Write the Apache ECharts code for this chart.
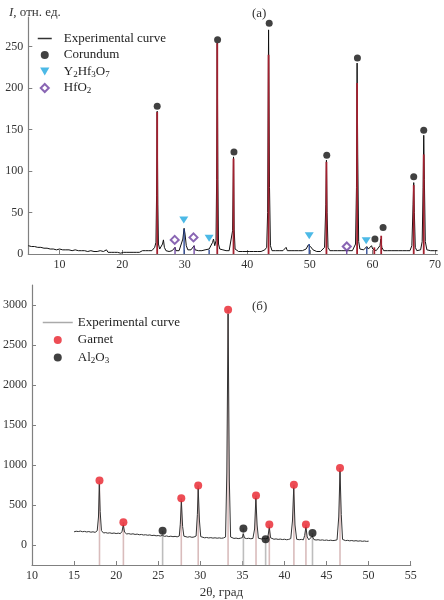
<!DOCTYPE html>
<html><head><meta charset="utf-8">
<script src="https://cdn.jsdelivr.net/npm/echarts@6/dist/echarts.min.js"></script>
<style>html,body{margin:0;padding:0;background:#fff}#c{width:444px;height:600px}</style>
</head><body><div id="c"></div>
<script>
const FONT = "'Liberation Serif','Times New Roman',serif";

// ---------- panel (a) ----------
const xTicksA = [10, 20, 30, 40, 50, 60, 70];
const yTicksA = [0, 50, 100, 150, 200, 250];
const curveA = [
[5,10],[5.25,8],[5.5,9],[5.75,7],[6,9],[6.25,7],[6.5,8],[6.75,6],[7,8],[7.25,6],[7.5,7],[7.75,5],[8,7],[8.25,5],[8.5,6],[8.75,4],[9,6],[9.25,4],[9.5,5],[9.75,4],
[10,6],[10.25,4],[10.5,5],[10.75,3],[11,5],[11.25,4],[11.5,5],[11.75,3],[12,4],[12.25,3],[12.5,5],[12.75,3],[13,4],[13.25,2],[13.5,4],[13.75,3],[14,4],[14.25,2],[14.5,3],[14.75,2],
[15,4],[15.25,2],[15.5,3],[15.75,2],[16,3],[16.25,2],[16.5,4],[16.75,2],[17,3],[17.25,2],[17.5,5],[17.75,2],[18,3],[18.25,2],[18.5,3],[18.75,2],[19,3],[19.25,2],[19.5,3],[19.75,1],
[20,3],[20.25,2],[20.5,3],[20.75,2],[21,4],[21.25,2],[21.5,3],[21.75,2],[22,3],[22.25,2],[22.5,4],[22.75,2],[23,3],[23.25,4],[23.5,3],[23.75,4],[24,3],[24.25,4],[24.5,5],[24.75,4],
[25,6],[25.2,8],[25.4,14],[25.5,70],[25.6,172],[25.7,60],[25.8,12],[26,6],[26.25,5],[26.45,12],[26.6,17],[26.75,8],[27,4],[27.25,5],[27.5,3],[27.75,4],[28,4],[28.25,6],[28.45,8],[28.6,4],
[28.85,3],[29.1,4],[29.4,6],[29.7,18],[29.9,31],[30.05,24],[30.25,10],[30.5,5],[30.75,4],[31,5],[31.3,6],[31.5,10],[31.65,5],[31.9,3],[32.2,4],[32.5,3],[32.75,4],[33,3],[33.25,5],[33.5,4],
[33.9,6],[34.2,8],[34.45,14],[34.6,18],[34.8,10],[35,16],[35.1,90],[35.2,254],[35.3,90],[35.4,12],[35.6,6],[35.85,4],[36.1,5],[36.35,3],[36.6,4],[36.85,3],[37.1,4],[37.4,5],[37.65,28],[37.8,117],
[37.9,30],[38.05,6],[38.3,4],[38.6,3],[38.9,4],[39.2,3],[39.5,4],[39.8,3],[40.1,4],[40.4,3],[40.7,4],[41,3],[41.3,4],[41.6,3],[41.9,4],[42.2,3],[42.5,4],[42.8,5],[43.1,8],[43.25,50],
[43.4,270],[43.55,80],[43.7,10],[43.95,4],[44.2,3],[44.5,4],[44.8,3],[45.1,4],[45.4,3],[45.7,4],[46,5],[46.2,8],[46.4,4],[46.7,3],[47,4],[47.3,3],[47.6,4],[47.9,3],[48.2,4],[48.5,3],
[48.8,4],[49.1,4],[49.4,6],[49.75,11],[49.9,13],[50.1,9],[50.3,8],[50.5,5],[50.8,4],[51.1,3],[51.4,4],[51.7,3],[52,4],[52.35,8],[52.55,60],[52.65,113],[52.75,50],[52.9,8],[53.2,4],[53.5,3],
[53.8,4],[54.1,3],[54.4,4],[54.7,3],[55,4],[55.3,3],[55.6,4],[55.9,5],[56.2,4],[56.5,3],[56.8,4],[57.1,5],[57.3,12],[57.45,80],[57.55,230],[57.65,120],[57.8,15],[58,6],[58.3,4],[58.6,5],
[58.9,7],[59.1,9],[59.35,6],[59.6,8],[59.85,10],[60.05,6],[60.3,5],[60.6,4],[60.9,5],[61.2,10],[61.35,18],[61.5,8],[61.8,4],[62.1,3],[62.4,4],[62.7,3],[63,4],[63.3,3],[63.6,4],[63.9,3],
[64.2,4],[64.5,3],[64.8,4],[65.1,3],[65.4,4],[65.7,3],[66,4],[66.3,10],[66.5,60],[66.6,86],[66.7,50],[66.85,8],[67.1,4],[67.4,3],[67.7,5],[67.95,15],[68.1,80],[68.2,143],[68.3,90],[68.45,15],
[68.7,5],[69,3],[69.3,4],[69.6,3],[69.9,4],[70.2,3],[70.4,4]
];
const corundumSticks = [[25.6,171],[35.2,254],[37.8,115],[43.4,240],[52.65,111],[57.55,206],[60.3,8],[61.4,22],[66.6,83],[68.2,120]];
const y2hf3o7Sticks = [[29.9,30],[33.9,5],[49.9,12],[59.1,8]];
const hfo2Sticks = [[28.45,8],[31.5,10],[55.9,4]];
const corundumPts = [[25.6,178],[35.25,258],[37.87,123],[43.5,278],[52.7,119],[57.6,236],[60.4,18],[61.7,32],[66.6,93],[68.2,149]];
const y2hf3o7Pts = [[29.85,41],[33.9,19],[49.9,22],[59.0,16]];
const hfo2Pts = [[28.4,17],[31.4,20],[55.9,9]];

// ---------- panel (б) ----------
const xTicksB = [10, 15, 20, 25, 30, 35, 40, 45, 50, 55];
const yTicksB = [0, 500, 1000, 1500, 2000, 2500, 3000];
const curveB = [
[15,165],[15.25,172],[15.5,168],[15.75,174],[16,166],[16.25,170],[16.5,163],[16.75,168],[17,160],[17.25,165],[17.5,158],[17.75,178],[17.9,350],[18.0,760],[18.1,420],[18.25,180],[18.5,150],[18.75,155],[19,148],[19.25,152],
[19.5,145],[19.75,150],[20,143],[20.25,148],[20.5,142],[20.7,170],[20.85,250],[21.0,160],[21.25,138],[21.5,142],[21.75,135],[22,140],[22.25,132],[22.5,136],[22.75,128],[23,132],[23.25,125],[23.5,128],[23.75,122],[24,126],
[24.25,118],[24.5,122],[24.75,115],[25,118],[25.25,112],[25.5,120],[25.75,108],[26,113],[26.25,105],[26.5,110],[26.75,104],[27,108],[27.25,102],[27.5,112],[27.62,260],[27.75,545],[27.9,230],[28.05,110],[28.25,102],[28.5,98],
[28.75,104],[29,96],[29.25,100],[29.5,112],[29.65,380],[29.75,705],[29.9,300],[30.05,105],[30.25,95],[30.5,90],[30.75,94],[31,88],[31.25,92],[31.5,86],[31.75,90],[32,85],[32.25,89],[32.5,84],[32.75,88],[33,100],
[33.15,900],[33.3,2890],[33.45,800],[33.6,100],[33.75,88],[34,82],[34.25,86],[34.5,80],[34.75,84],[35,92],[35.1,140],[35.25,88],[35.5,80],[35.75,84],[36,78],[36.25,82],[36.45,200],[36.6,585],[36.75,250],[36.9,85],
[37.25,76],[37.5,80],[37.75,78],[38,82],[38.1,150],[38.2,220],[38.35,90],[38.5,76],[38.75,72],[39,76],[39.25,70],[39.5,74],[39.75,68],[40,72],[40.25,66],[40.5,70],[40.75,80],[40.95,300],[41.1,715],[41.25,250],
[41.45,72],[41.75,66],[42,70],[42.25,65],[42.4,120],[42.55,225],[42.7,100],[42.9,65],[43.1,80],[43.3,110],[43.5,68],[43.75,62],[44,66],[44.25,60],[44.5,64],[44.75,58],[45,62],[45.25,56],[45.5,60],[45.75,55],
[46,58],[46.25,65],[46.45,350],[46.6,925],[46.75,380],[46.9,70],[47.25,55],[47.5,58],[47.75,52],[48,56],[48.25,50],[48.5,54],[48.75,48],[49,52],[49.25,46],[49.5,50],[49.75,45],[50,48]
];
const garnetPeaks = [[18.02,805],[20.86,285],[27.74,583],[29.75,744],[33.3,2941],[36.62,620],[38.2,256],[41.12,752],[42.55,256],[46.6,963]];
const al2o3Peaks = [[25.52,178],[35.12,207],[37.76,71],[43.33,149]];

const subNames = {
  'Y2Hf3O7': 'Y{s|2}Hf{s|3}O{s|7}',
  'HfO2': 'HfO{s|2}',
  'Al2O3': 'Al{s|2}O{s|3}'
};
const rich = {s: {fontSize: 9, fontFamily: FONT, color: '#222', lineHeight: 15, verticalAlign: 'bottom', padding: [4, 0, 0, 0]}};
const DOWN_TRI = 'path://M0,0L10,0L5,8.7Z';
const DIAMOND = 'path://M5,0L10,5L5,10L0,5Z';

function sticks(data, color, width, base, idx, z) {
  return {
    type: 'custom', xAxisIndex: idx, yAxisIndex: idx, data: data, z: z, silent: true,
    encode: {x: 0, y: 1},
    renderItem: function (params, api) {
      const p1 = api.coord([api.value(0), base]);
      const p2 = api.coord([api.value(0), api.value(1)]);
      return {type: 'line', shape: {x1: p1[0], y1: p1[1], x2: p2[0], y2: p2[1]},
              style: {stroke: color, lineWidth: width}};
    }
  };
}

function axisCommon(ticks) {
  return {
    axisLine: {show: true, onZero: false, lineStyle: {color: '#808080', width: 1.2}},
    axisTick: {show: true, inside: true, length: 4, customValues: ticks, lineStyle: {color: '#808080', width: 1}},
    axisLabel: {customValues: ticks, color: '#333', fontFamily: FONT, fontSize: 12, margin: 5, formatter: v => String(v)},
    splitLine: {show: false}
  };
}

const chart = echarts.init(document.getElementById('c'));
chart.setOption({
  backgroundColor: '#fff',
  animation: false,
  title: [
    {text: '{i|I}, отн. ед.', left: 4, top: 1, textStyle: {fontFamily: FONT, fontSize: 13, fontWeight: 'normal', color: '#333', rich: {i: {fontStyle: 'italic', fontFamily: FONT, fontSize: 13, color: '#333'}}}},
    {text: '(a)', left: 247, top: 2, textStyle: {fontFamily: FONT, fontSize: 13, fontWeight: 'normal', color: '#333'}},
    {text: '(б)', left: 247, top: 295, textStyle: {fontFamily: FONT, fontSize: 13, fontWeight: 'normal', color: '#333'}}
  ],
  legend: [
    {
      orient: 'vertical', left: 32, top: 26, itemWidth: 14, itemHeight: 8, itemGap: 1.5,
      data: [{name: 'Experimental curve', itemStyle: {opacity: 0}, lineStyle: {color: '#333', width: 1.5}}, 'Corundum', 'Y2Hf3O7', 'HfO2'],
      formatter: n => subNames[n] || n,
      textStyle: {fontFamily: FONT, fontSize: 13, color: '#222', lineHeight: 15, padding: [0, 0, 0, 7], rich: rich},
      selectedMode: false
    },
    {
      orient: 'vertical', left: 37, top: 310, itemWidth: 30, itemHeight: 8, itemGap: 2.5,
      data: [{name: 'Experimental curve ', itemStyle: {opacity: 0}, lineStyle: {color: '#aaa', width: 1.5}}, 'Garnet', 'Al2O3'],
      formatter: n => subNames[n] || n.trim(),
      textStyle: {fontFamily: FONT, fontSize: 13, color: '#222', lineHeight: 15, rich: rich},
      selectedMode: false
    }
  ],
  grid: [
    {left: 28.3, right: 5.3, top: 17, bottom: 346},
    {left: 31, right: 33.3, top: 285, bottom: 34}
  ],
  xAxis: [
    Object.assign({type: 'value', gridIndex: 0, min: 5, max: 70.4}, axisCommon(xTicksA)),
    Object.assign({type: 'value', gridIndex: 1, min: 10, max: 55, name: '2θ, град', nameLocation: 'middle', nameGap: 21,
      nameTextStyle: {fontFamily: FONT, fontSize: 13, color: '#333'}}, axisCommon(xTicksB))
  ],
  yAxis: [
    Object.assign({type: 'value', gridIndex: 0, min: 0, max: 285.5}, axisCommon(yTicksA)),
    Object.assign({type: 'value', gridIndex: 1, min: -250, max: 3250}, axisCommon(yTicksB))
  ],
  series: [
    {name: 'Experimental curve', type: 'line', xAxisIndex: 0, yAxisIndex: 0, data: curveA, symbol: 'none', z: 2,
      lineStyle: {color: '#111', width: 1}, itemStyle: {color: '#333'}},
    sticks(corundumSticks, '#a3202f', 1.8, 0, 0, 3),
    sticks(y2hf3o7Sticks, '#23408f', 1.3, 0, 0, 3),
    sticks(hfo2Sticks, '#6b3fa0', 1.3, 0, 0, 3),
    {name: 'Corundum', type: 'scatter', xAxisIndex: 0, yAxisIndex: 0, data: corundumPts, symbol: 'circle', symbolSize: 7, z: 5,
      symbolKeepAspect: true, itemStyle: {color: '#111'}},
    {name: 'Y2Hf3O7', type: 'scatter', xAxisIndex: 0, yAxisIndex: 0, data: y2hf3o7Pts, symbol: DOWN_TRI, symbolSize: [9, 8], z: 5,
      symbolKeepAspect: true, itemStyle: {color: '#1fa8e0'}},
    {name: 'HfO2', type: 'scatter', xAxisIndex: 0, yAxisIndex: 0, data: hfo2Pts, symbol: DIAMOND, symbolSize: 8, z: 5,
      symbolKeepAspect: true, itemStyle: {color: '#fff', borderColor: '#6b3fa0', borderWidth: 2}},

    sticks(garnetPeaks, '#d9bcbc', 1.6, -250, 1, 1),
    sticks(al2o3Peaks, '#bdbdbd', 1.6, -250, 1, 1),
    {name: 'Experimental curve ', type: 'line', xAxisIndex: 1, yAxisIndex: 1, data: curveB, symbol: 'none', z: 2,
      lineStyle: {color: '#333', width: 1}, itemStyle: {color: '#aaa'}},
    {name: 'Garnet', type: 'scatter', xAxisIndex: 1, yAxisIndex: 1, data: garnetPeaks, symbol: 'circle', symbolSize: 8, z: 5,
      symbolKeepAspect: true, itemStyle: {color: '#e8212b'}},
    {name: 'Al2O3', type: 'scatter', xAxisIndex: 1, yAxisIndex: 1, data: al2o3Peaks, symbol: 'circle', symbolSize: 8, z: 5,
      symbolKeepAspect: true, itemStyle: {color: '#111'}}
  ]
});
</script>
</body></html>
